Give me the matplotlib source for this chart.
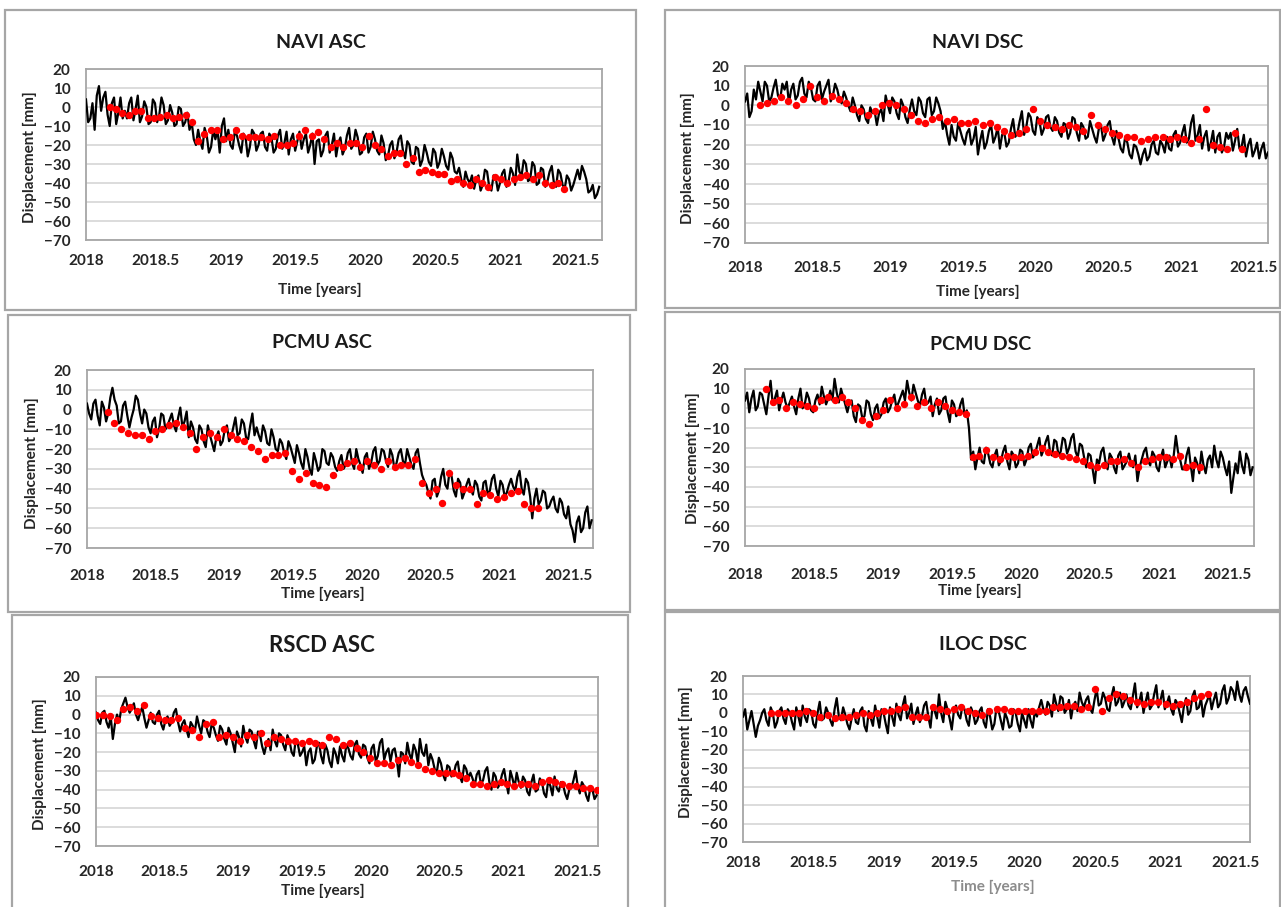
import numpy as np
import matplotlib
matplotlib.use("Agg")
import matplotlib.pyplot as plt
from matplotlib.patches import Rectangle

W, H = 1281, 907

x_ticks = [2018, 2018.5, 2019, 2019.5, 2020, 2020.5, 2021, 2021.5]
x_tick_labels = ["2018", "2018.5", "2019", "2019.5", "2020", "2020.5", "2021", "2021.5"]
y_ticks = [20, 10, 0, -10, -20, -30, -40, -50, -60, -70]

# ---- GNSS (black line) and InSAR (red dots) displacement, mm ----
# *_gnss: samples on a regular grid over *_gnss_span
# *_gnss_mid: samples read half-way between consecutive *_gnss samples
navi_asc_gnss = [
    4, -6, -12, 11, 5, -4, 2, -9, 5, -2,
    2, -7, 6, -5, 0, -8, 2, -4, 1, -7,
    -3, -9, -1, -8, -12, -17, -12, -22, -15, -21,
    -17, -24, -6, -12, -22, -15, -24, -16, -21, -14,
    -20, -13, -23, -16, -22, -12, -19, -25, -14, -18,
    -22, -14, -20, -30, -17, -23, -13, -20, -26, -16,
    -22, -11, -20, -16, -24, -14, -21, -17, -25, -19,
    -26, -18, -24, -15, -27, -20, -30, -22, -28, -24,
    -31, -24, -29, -26, -33, -27, -35, -38, -34, -40,
    -43, -36, -41, -34, -44, -37, -40, -33, -39, -35,
    -25, -36, -30, -38, -31, -40, -33, -39, -31, -42,
    -35, -43, -38, -41, -33, -31, -38, -44, -48, -42,
]
navi_asc_gnss_mid = [
    -8, 2, 6, -2, 8, -10, 5, -3, -6, -6,
    5, -1, -8, 3, -9, 4, -8, 5, -9, 1,
    -10, 0, -10, -3, -8, -20, -18, -11, -24, -12,
    -12, -10, -18, -20, -13, -20, -14, -26, -12, -23,
    -14, -21, -14, -24, -15, -22, -13, -17, -23, -13,
    -17, -24, -14, -18, -26, -15, -24, -14, -19, -25,
    -15, -22, -12, -25, -16, -24, -13, -23, -15, -28,
    -20, -27, -17, -23, -18, -29, -21, -31, -20, -29,
    -22, -32, -22, -31, -24, -34, -32, -42, -38, -36,
    -38, -44, -33, -42, -36, -44, -35, -42, -32, -41,
    -34, -28, -39, -29, -41, -32, -42, -34, -40, -33,
    -41, -36, -44, -37, -38, -34, -45, -41, -46,
]
navi_asc_gnss_span = (2018.0, 2021.67)
navi_asc_insar = [
    0, -1, -3, -4, -2, -2, -6, -6, -5, -4, -6, -5, -4,
    -8, -18, -14, -12, -12, -17, -16, -12, -15, -16, -16, -16, -17,
    -15, -20, -20, -19, -15, -12, -15, -13, -17, -21, -19, -21, -19,
    -19, -21, -15, -20, -22, -26, -24, -24, -30, -27, -34, -33, -34,
    -35, -35, -39, -38, -40, -41, -38, -40, -42, -37, -38, -40, -38,
    -37, -36, -38, -36, -40, -41, -40, -43,
]
navi_asc_insar_span = (2018.17, 2021.42)

navi_dsc_gnss = [
    2, -6, 8, 12, 2, 10, 4, 13, 3, 8,
    1, 11, 5, 14, 4, 9, 2, 12, 7, 13,
    5, 8, 1, 4, -3, 0, -8, -2, -9, -4,
    -10, -2, 5, -4, 2, -7, 0, -9, 3, -5,
    2, -6, 4, -3, 1, -12, -15, -10, -18, -13,
    -20, -12, -17, -25, -13, -19, -10, -16, -22, -14,
    -19, -7, -14, -3, -11, -6, -15, -8, -12, -5,
    -13, -8, -16, -10, -14, -7, -18, -11, -16, -12,
    -19, -10, -15, -8, -20, -17, -24, -19, -27, -21,
    -30, -22, -26, -18, -25, -20, -16, -23, -13, -19,
    -10, -17, -5, -15, -22, -13, -19, -24, -14, -21,
    -17, -23, -12, -21, -26, -17, -23, -27, -19, -24,
]
navi_dsc_gnss_mid = [
    6, -3, 3, 7, 12, 2, 9, 5, 11, 12,
    8, 3, 12, 6, 12, 3, 10, 3, 10, 2,
    11, 3, 7, 0, 4, -5, 0, -7, -1, -3,
    -4, -8, 0, 4, -4, 3, -6, -2, -3, 4,
    -4, 3, -5, 4, -3, -8, -20, -16, -9, -17,
    -14, -20, -11, -18, -22, -13, -19, -11, -15, -21,
    -12, -16, -8, -15, -4, -13, -6, -15, -6, -11,
    -6, -14, -9, -17, -6, -14, -9, -17, -8, -16,
    -12, -18, -10, -16, -13, -22, -16, -25, -20, -25,
    -25, -28, -20, -24, -18, -24, -22, -15, -21, -14,
    -19, -9, -18, -10, -16, -23, -13, -16, -24, -14,
    -14, -18, -22, -15, -20, -26, -19, -22, -27,
]
navi_dsc_gnss_span = (2018.0, 2021.6)
navi_dsc_insar = [
    0, 1, 2, 4, 2, 0, 3, 10, 4, 2, 5, 3, 1, -2, -3, -5, -3, 0, 1, 0,
    -2, -5, -8, -9, -7, -6, -8, -7, -9, -9, -8, -10, -9, -11, -13, -15,
    -14, -12, -2, -8, -10, -11, -12, -10, -11, -13, -5, -10, -12, -14,
    -15, -16, -16, -18, -17, -16, -16, -17, -16, -17, -19, -17, -2,
    -20, -21, -22, -14, -22,
]
navi_dsc_insar_span = (2018.1, 2021.42)

pcmu_asc_gnss = [
    3, -5, 5, -8, 1, -2, 11, 2, -6, 4,
    -9, 0, 5, -7, -2, -12, -4, -10, -3, -8,
    -2, -11, 1, -6, -14, -9, -17, -10, -19, -13,
    -21, -11, -16, -8, -14, -4, -12, -7, -15, -2,
    -9, -16, -11, -18, -14, -21, -17, -25, -19, -27,
    -22, -30, -24, -33, -26, -29, -21, -28, -24, -31,
    -23, -28, -20, -30, -25, -32, -22, -27, -19, -26,
    -21, -29, -23, -27, -20, -28, -24, -30, -20, -33,
    -38, -45, -35, -41, -30, -40, -34, -44, -37, -42,
    -35, -43, -38, -46, -36, -41, -33, -44, -38, -42,
    -35, -41, -31, -43, -37, -55, -40, -46, -42, -49,
    -44, -52, -47, -55, -58, -67, -54, -60, -49, -56,
]
pcmu_asc_gnss_mid = [
    -2, 3, -3, 4, -6, 6, 5, -7, 2, -3,
    -4, 7, -2, 0, -9, -6, -14, -2, -10, -5,
    -8, -4, -9, -1, -6, -15, -8, -16, -8, -17,
    -14, -18, -10, -16, -9, -13, -5, -14, -8, -13,
    -13, -8, -17, -10, -20, -15, -22, -16, -23, -18,
    -27, -20, -30, -22, -31, -20, -27, -22, -29, -26,
    -30, -22, -27, -20, -28, -24, -30, -21, -28, -20,
    -26, -20, -30, -22, -26, -20, -28, -22, -27, -36,
    -42, -36, -44, -34, -38, -31, -41, -35, -45, -38,
    -40, -36, -44, -37, -43, -35, -40, -36, -44, -38,
    -39, -34, -40, -35, -44, -45, -48, -41, -50, -46,
    -50, -45, -53, -49, -61, -57, -62, -52, -60,
]
pcmu_asc_gnss_span = (2018.0, 2021.67)
pcmu_asc_insar = [
    -1, -7, -10, -12, -13, -13, -15, -11, -10, -8, -7, -9, -12, -20,
    -14, -12, -14, -10, -13, -15, -16, -19, -21, -25, -23, -23, -22,
    -31, -35, -32, -37, -38, -39, -33, -29, -27, -26, -29, -26, -28,
    -30, -26, -29, -28, -28, -25, -37, -42, -40, -47, -32, -38, -40,
    -40, -48, -42, -43, -45, -44, -42, -41, -48, -50, -50,
]
pcmu_asc_insar_span = (2018.15, 2021.28)

pcmu_dsc_gnss = [
    4, -2, 9, 1, 7, -3, 14, 5, -1, 8,
    0, 6, -3, 10, 2, 5, -2, 7, 11, 2,
    9, 15, 3, 6, -2, 4, -7, 1, -4, 3,
    -6, 2, -3, 5, 0, 7, 3, 9, 14, 4,
    8, 1, 10, 3, -4, 5, -1, 6, -7, 2,
    -3, 5, -1, -26, -31, -20, -28, -23, -30, -21,
    -27, -19, -31, -24, -28, -22, -26, -18, -23, -15,
    -21, -14, -24, -17, -22, -16, -20, -13, -25, -19,
    -30, -24, -38, -28, -20, -31, -25, -33, -22, -29,
    -23, -30, -37, -26, -20, -29, -24, -32, -21, -27,
    -30, -14, -26, -31, -20, -37, -28, -22, -33, -24,
    -19, -30, -25, -34, -43, -28, -22, -33, -26, -30,
]
pcmu_dsc_gnss_mid = [
    8, 5, -1, 8, 2, 6, 2, 9, 4, 3,
    3, 1, 5, 0, 8, -1, 4, 2, 6, 5,
    4, 8, 10, 2, 3, -4, 2, -5, 4, -3,
    0, -5, 3, -2, 4, 0, 6, 4, 8, 12,
    4, 7, 2, 6, 2, -3, 5, -2, 4, -4,
    2, -4, -10, -22, -25, -27, -20, -28, -24, -29,
    -22, -27, -22, -30, -21, -29, -20, -25, -19, -24,
    -17, -22, -16, -24, -15, -23, -15, -22, -18, -25,
    -23, -31, -26, -22, -27, -23, -30, -24, -31, -27,
    -28, -24, -30, -22, -27, -22, -30, -25, -30, -24,
    -24, -22, -31, -24, -29, -25, -33, -29, -26, -30,
    -26, -22, -30, -27, -35, -33, -29, -23, -34,
]
pcmu_dsc_gnss_span = (2018.0, 2021.68)
pcmu_dsc_insar = [
    10, 3, 4, 0, 3, 2, 1, 0, 4, 6, 4, 6, 3, 0, -6, -8, -4, -1, 4, 0,
    2, 6, 1, 3, 0, 3, 1, -1, -2, -3, -25, -24, -21, -25, -26, -24,
    -25, -25, -24, -22, -20, -22, -23, -24, -25, -26, -27, -29, -30,
    -29, -27, -27, -26, -28, -30, -27, -26, -25, -25, -26, -24, -30,
    -29, -30,
]
pcmu_dsc_insar_span = (2018.15, 2021.3)

rscd_asc_gnss = [
    1, -5, 2, -7, -13, 0, 3, 9, 1, 6,
    -3, 4, -7, 1, -5, 2, -8, -1, -4, 3,
    -9, -3, -12, -6, -1, -10, -4, -12, -7, -14,
    -8, -16, -10, -20, -12, -6, -15, -9, -18, -11,
    -21, -13, -8, -17, -11, -19, -14, -22, -16, -20,
    -27, -18, -24, -15, -26, -19, -28, -21, -17, -25,
    -18, -24, -14, -23, -17, -26, -16, -22, -13, -20,
    -25, -18, -33, -21, -15, -24, -19, -13, -22, -27,
    -24, -31, -26, -35, -28, -32, -25, -36, -29, -31,
    -38, -30, -35, -28, -40, -33, -37, -29, -42, -34,
    -31, -39, -35, -43, -32, -40, -36, -44, -38, -33,
    -41, -37, -45, -39, -30, -42, -38, -46, -40, -43,
]
rscd_asc_gnss_mid = [
    -3, 1, -4, -1, -5, -4, 6, 4, 3, 0,
    1, -2, -3, -4, 0, -5, -3, -6, 1, -4,
    -5, -8, -4, -9, -6, -3, -9, -5, -11, -6,
    -13, -7, -15, -9, -17, -12, -8, -14, -9, -17,
    -16, -19, -14, -10, -16, -11, -20, -13, -22, -17,
    -20, -26, -17, -22, -16, -25, -18, -26, -22, -16,
    -22, -16, -21, -16, -23, -18, -25, -15, -24, -18,
    -19, -24, -20, -26, -21, -16, -26, -20, -16, -21,
    -29, -23, -32, -27, -33, -27, -33, -27, -34, -34,
    -32, -37, -30, -36, -31, -39, -32, -36, -30, -39,
    -36, -33, -41, -36, -41, -34, -42, -35, -43, -39,
    -36, -42, -40, -35, -38, -36, -43, -39, -45,
]
rscd_asc_gnss_span = (2018.0, 2021.64)
rscd_asc_insar = [
    0, 0, -1, -3, 3, 4, 2, 5, -1, -2, -3, -3, -2, -7, -8, -12, -5, -4,
    -12, -11, -12, -14, -11, -12, -10, -15, -12, -13, -14, -14, -15,
    -14, -15, -16, -12, -13, -16, -15, -18, -20, -23, -26, -26, -27,
    -24, -23, -25, -27, -29, -30, -31, -31, -31, -32, -34, -37, -37,
    -38, -37, -36, -37, -38, -37, -37, -38, -36, -35, -36, -37, -38,
    -38, -39, -39, -40,
]
rscd_asc_insar_span = (2018.0, 2021.64)

iloc_dsc_gnss = [
    -2, -9, 1, -13, -4, 2, -7, 0, -5, 3,
    -6, 0, -9, -2, 4, -5, 1, -8, 6, -3,
    0, -7, 8, -4, -1, -9, 2, -6, 3, -10,
    -3, 4, -8, 0, -11, -2, 5, -4, 9, 0,
    -6, 3, -2, 6, -8, 1, 10, -5, 2, -9,
    4, -3, 2, -7, 0, -4, 3, -8, -2, -6,
    1, -9, -3, -7, 0, -10, -4, 2, -8, -2,
    7, -1, 4, 10, 1, 8, 2, -3, 6, 11,
    3, 9, 0, 13, 5, 8, 1, 14, 6, 3,
    10, 2, 16, 6, 0, 11, 4, 15, 7, 2,
    9, -1, 5, -5, 8, 1, 12, 3, -2, 7,
    2, 11, 5, 15, 8, 12, 17, 6, 14, 5,
]
iloc_dsc_gnss_mid = [
    2, -4, -6, -7, 0, -4, 3, -8, 1, -3,
    2, -5, 3, -7, -2, 2, -6, 0, -4, 3,
    -4, 2, -2, 3, -6, -3, -5, 1, -7, 1,
    -7, -2, 2, -6, 3, -7, -1, 4, -3, 5,
    -1, -5, 4, -2, 4, -3, 0, 6, -3, 1,
    -1, 4, -4, 3, -6, 1, -5, 2, -9, 3,
    -4, 0, -8, 2, -6, 0, -8, -4, 1, 3,
    2, 6, -2, 5, 9, 0, 7, 4, 1, 6,
    7, 2, 7, 4, 11, 2, 9, 4, 11, 6,
    4, 9, 3, 11, 6, 2, 10, 3, 12, 5,
    2, 7, 0, 4, -1, 9, 2, 8, 4, 10,
    7, 3, 12, 5, 14, 7, 10, 12, 9,
]
iloc_dsc_gnss_span = (2018.0, 2021.6)
iloc_dsc_insar = [
    0, 0, 0, 0, 0, 1, 0, -2, -1, -3, -2, -2, -1, 0, -1, 0, 1, 1, 2, 3,
    -2, -2, -2, 3, 2, 1, 2, 3, 1, 0, -1, 1, 2, 2, 1, 1, 1, 1, 1, 1,
    3, 3, 4, 4, 2, 3, 13, 1, 8, 10, 9, 7, 6, 5, 6, 6, 5, 4, 5, 6,
    8, 9, 10,
]
iloc_dsc_insar_span = (2018.2, 2021.3)

# ---- layout (pixels of the 1281x907 canvas) ----
panels = [
    dict(title="NAVI ASC", gnss=navi_asc_gnss, gmid=navi_asc_gnss_mid, gspan=navi_asc_gnss_span,
         insar=navi_asc_insar, ispan=navi_asc_insar_span,
         box=(5, 10, 636, 310), plot=(86, 69, 602, 240), xmax=2021.69,
         title_xy=(321, 42), tsize=14, xlab_xy=(320, 290), ylab_xy=(30, 157),
         xpad=10, xlab_color="#262626"),
    dict(title="NAVI DSC", gnss=navi_dsc_gnss, gmid=navi_dsc_gnss_mid, gspan=navi_dsc_gnss_span,
         insar=navi_dsc_insar, ispan=navi_dsc_insar_span,
         box=(665, 10, 1280, 308), plot=(745, 66, 1268, 243), xmax=2021.6,
         title_xy=(978, 42), tsize=14, xlab_xy=(978, 292), ylab_xy=(688, 158),
         xpad=13, xlab_color="#262626"),
    dict(title="PCMU ASC", gnss=pcmu_asc_gnss, gmid=pcmu_asc_gnss_mid, gspan=pcmu_asc_gnss_span,
         insar=pcmu_asc_insar, ispan=pcmu_asc_insar_span,
         box=(8, 315, 630, 612), plot=(87, 370, 593, 548), xmax=2021.68,
         title_xy=(322, 343), tsize=14, xlab_xy=(323, 594), ylab_xy=(32, 463),
         xpad=15, xlab_color="#262626"),
    dict(title="PCMU DSC", gnss=pcmu_dsc_gnss, gmid=pcmu_dsc_gnss_mid, gspan=pcmu_dsc_gnss_span,
         insar=pcmu_dsc_insar, ispan=pcmu_dsc_insar_span,
         box=(665, 312, 1280, 610), plot=(745, 369, 1254, 546), xmax=2021.69,
         title_xy=(981, 344), tsize=14, xlab_xy=(980, 591), ylab_xy=(693, 458),
         xpad=16, xlab_color="#262626"),
    dict(title="RSCD ASC", gnss=rscd_asc_gnss, gmid=rscd_asc_gnss_mid, gspan=rscd_asc_gnss_span,
         insar=rscd_asc_insar, ispan=rscd_asc_insar_span,
         box=(12, 615, 628, 912), plot=(96, 677, 598, 846), xmax=2021.65,
         title_xy=(322, 646), tsize=16, xlab_xy=(323, 891), ylab_xy=(40, 764),
         xpad=14, xlab_color="#262626"),
    dict(title="ILOC DSC", gnss=iloc_dsc_gnss, gmid=iloc_dsc_gnss_mid, gspan=iloc_dsc_gnss_span,
         insar=iloc_dsc_insar, ispan=iloc_dsc_insar_span,
         box=(665, 612, 1280, 912), plot=(743, 676, 1250, 842), xmax=2021.6,
         title_xy=(983, 644), tsize=14, xlab_xy=(993, 887), ylab_xy=(686, 752),
         xpad=10, xlab_color="#8c8c8c"),
]

plt.rcParams['font.family'] = ['Lato', 'DejaVu Sans']
plt.rcParams['font.weight'] = 'bold'

fig = plt.figure(figsize=(W / 100, H / 100), dpi=100)
fig.patch.set_facecolor("white")


def fx(px):
    return px / W


def fy(py):
    return 1 - py / H


for p in panels:
    # grey frame round each chart
    bx0, by0, bx1, by1 = p["box"]
    fig.add_artist(Rectangle((fx(bx0), fy(by1)), fx(bx1 - bx0), (by1 - by0) / H,
                             transform=fig.transFigure, fill=False,
                             edgecolor="#a6a6a6", linewidth=1.6))

    x0, y0, x1, y1 = p["plot"]
    ax = fig.add_axes([fx(x0), fy(y1), fx(x1 - x0), (y1 - y0) / H])

    # interleave the grid samples with the half-step samples
    t_a = np.linspace(p["gspan"][0], p["gspan"][1], len(p["gnss"]))
    t_m = (t_a[:-1] + t_a[1:]) / 2
    t_g = np.empty(len(t_a) + len(t_m))
    v_g = np.empty_like(t_g)
    t_g[0::2], t_g[1::2] = t_a, t_m
    v_g[0::2], v_g[1::2] = p["gnss"], p["gmid"]

    t_i = np.linspace(p["ispan"][0], p["ispan"][1], len(p["insar"]))
    ax.plot(t_g, v_g, color="black", linewidth=1.6, zorder=3)
    ax.plot(t_i, p["insar"], linestyle="none", marker="o", markersize=4.3,
            markerfacecolor="#ff0000", markeredgecolor="#ff0000", zorder=4)

    ax.set_xlim(2018, p["xmax"])
    ax.set_ylim(-70, 20)
    ax.set_xticks(x_ticks)
    ax.set_xticklabels(x_tick_labels)
    ax.set_yticks(y_ticks)
    ax.grid(axis="y", color="#d9d9d9", linewidth=1.3, zorder=0)
    ax.set_axisbelow(True)
    ax.tick_params(axis="both", length=0, labelsize=11, labelcolor="#262626")
    ax.tick_params(axis="x", pad=p["xpad"])
    ax.tick_params(axis="y", pad=11)
    for s in ax.spines.values():
        s.set_color("#a6a6a6")
        s.set_linewidth(1.3)

    fig.text(fx(p["title_xy"][0]), fy(p["title_xy"][1]), p["title"],
             ha="center", va="center", fontsize=p["tsize"], color="#1a1a1a")
    fig.text(fx(p["xlab_xy"][0]), fy(p["xlab_xy"][1]), "Time [years]",
             ha="center", va="center", fontsize=11, color=p["xlab_color"])
    fig.text(fx(p["ylab_xy"][0]), fy(p["ylab_xy"][1]), "Displacement [mm]",
             ha="center", va="center", rotation=90, fontsize=11, color="#262626")

fig.savefig("out.png", dpi=100, facecolor="white")
